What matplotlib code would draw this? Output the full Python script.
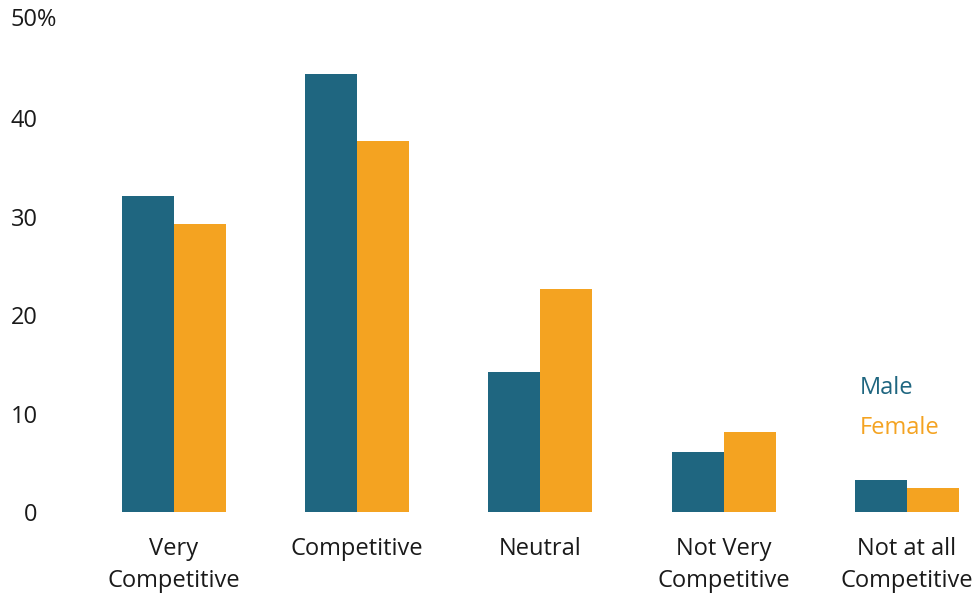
import matplotlib
matplotlib.use("Agg")
import matplotlib.pyplot as plt
import numpy as np

categories = ["Very\nCompetitive", "Competitive", "Neutral", "Not Very\nCompetitive", "Not at all\nCompetitive"]
male = [32.1, 44.5, 14.2, 6.1, 3.25]
female = [29.3, 37.7, 22.7, 8.1, 2.4]
series_names = ["Male", "Female"]
yticks = [0, 10, 20, 30, 40]

TEAL = "#1f6680"
ORANGE = "#f4a321"
TEXT = "#1a1a1a"

plt.rcParams['font.family'] = ['Open Sans', 'DejaVu Sans']
FS = 17

W, H = 980, 599
fig = plt.figure(figsize=(W/100, H/100), dpi=100)
spacing = 183.3
left_px, right_px = 82, 980
ax = fig.add_axes([left_px/W, 87/H, (right_px-left_px)/W, 492/H])
ax.set_xlim(-0.5, -0.5 + (right_px-left_px)/spacing)
ax.set_ylim(0, 50)

x = np.arange(len(categories))
bw = 52/spacing
ax.bar(x - bw/2, male, width=bw, color=TEAL, linewidth=0)
ax.bar(x + bw/2, female, width=bw, color=ORANGE, linewidth=0)

for s in ax.spines.values():
    s.set_visible(False)
ax.tick_params(length=0)
ax.set_yticks(yticks)
ax.set_yticklabels([str(t) for t in yticks], fontsize=FS, color=TEXT)
ax.tick_params(axis='y', pad=32)
ax.set_xticks(x)
ax.set_xticklabels(categories, fontsize=FS, color=TEXT, linespacing=1.45)
ax.tick_params(axis='x', pad=18)

fig.text(10/W, 1 - 20/H, "50%", fontsize=FS, color=TEXT, ha='left', va='center')

fig.text(860/W, 1 - 388/H, series_names[0], fontsize=FS, color=TEAL, ha='left', va='center')
fig.text(860/W, 1 - 428/H, series_names[1], fontsize=FS, color=ORANGE, ha='left', va='center')

fig.savefig("out.png", dpi=100)
